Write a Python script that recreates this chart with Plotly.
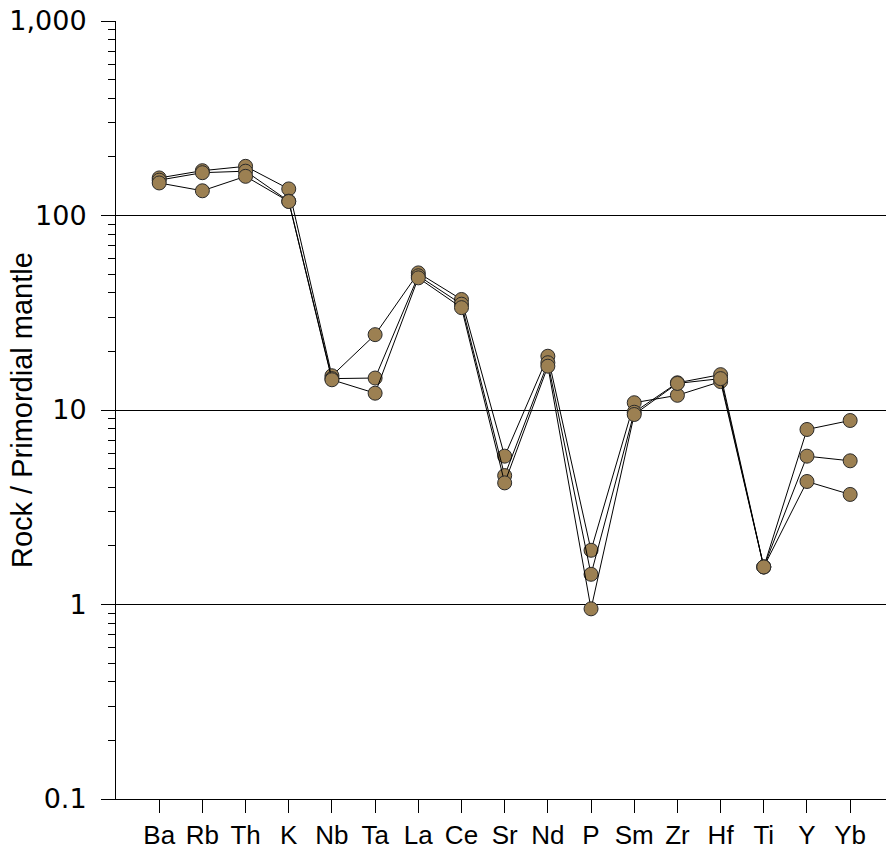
import plotly.graph_objects as go

elements = ["Ba", "Rb", "Th", "K", "Nb", "Ta", "La", "Ce", "Sr", "Nd", "P", "Sm", "Zr", "Hf", "Ti", "Y", "Yb"]

sample_1 = [156, 170, 179, 137, 15.0, 24.4, 50.7, 37.0, 5.79, 18.9, 1.90, 10.9, 11.9, 14.0, 1.56, 7.94, 8.83]
sample_2 = [152, 166, 169, 118.5, 14.5, 14.6, 49.0, 35.0, 4.60, 17.5, 1.43, 9.74, 13.8, 15.2, 1.56, 5.79, 5.48]
sample_3 = [147, 134, 159, 118.0, 14.3, 12.2, 47.8, 33.6, 4.22, 16.8, 0.95, 9.48, 13.7, 14.5, 1.56, 4.29, 3.68]

y_tick_vals = [0.1, 1, 10, 100, 1000]
y_tick_text = ["0.1", "1", "10", "100", "1,000"]
y_title = "Rock / Primordial mantle"

marker_color = "#9c8052"

fig = go.Figure()
for s in [sample_1, sample_2, sample_3]:
    fig.add_trace(go.Scatter(
        x=list(range(len(elements))), y=s, mode="lines+markers",
        line=dict(color="black", width=1),
        marker=dict(size=14, color=marker_color, line=dict(color="#2a2a2a", width=1)),
        showlegend=False, hoverinfo="skip",
    ))

fig.update_layout(
    width=886, height=852,
    margin=dict(l=116, r=0, t=21, b=53),
    plot_bgcolor="white", paper_bgcolor="white",
    font=dict(family="Liberation Sans, Arial, sans-serif", color="black"),
    xaxis=dict(
        range=[-1, 16.83],
        tickmode="array", tickvals=list(range(len(elements))), ticktext=elements,
        ticks="outside", ticklen=13, tickcolor="black", tickwidth=1,
        showline=True, linecolor="black", linewidth=1,
        showgrid=False, zeroline=False,
        tickfont=dict(size=26, family="Liberation Sans, Arial"),
    ),
    yaxis=dict(
        type="log", range=[-1, 3],
        tickmode="array", tickvals=y_tick_vals, ticktext=y_tick_text,
        ticks="outside", ticklen=14, tickcolor="black", tickwidth=1,
        ticklabelstandoff=9,
        showline=True, linecolor="black", linewidth=1,
        showgrid=True, gridcolor="black", gridwidth=1,
        zeroline=False,
        tickfont=dict(size=27, family="DejaVu Sans"),
        minor=dict(ticks="outside", ticklen=7, tickcolor="black", dtick="D1", showgrid=False),
    ),
    annotations=[dict(
        text=y_title, xref="paper", yref="paper", x=-0.122, y=0.5,
        xanchor="center", yanchor="middle", textangle=-90, showarrow=False,
        font=dict(size=29, family="Liberation Sans, Arial"),
    )],
)

fig.write_html("out.html")
